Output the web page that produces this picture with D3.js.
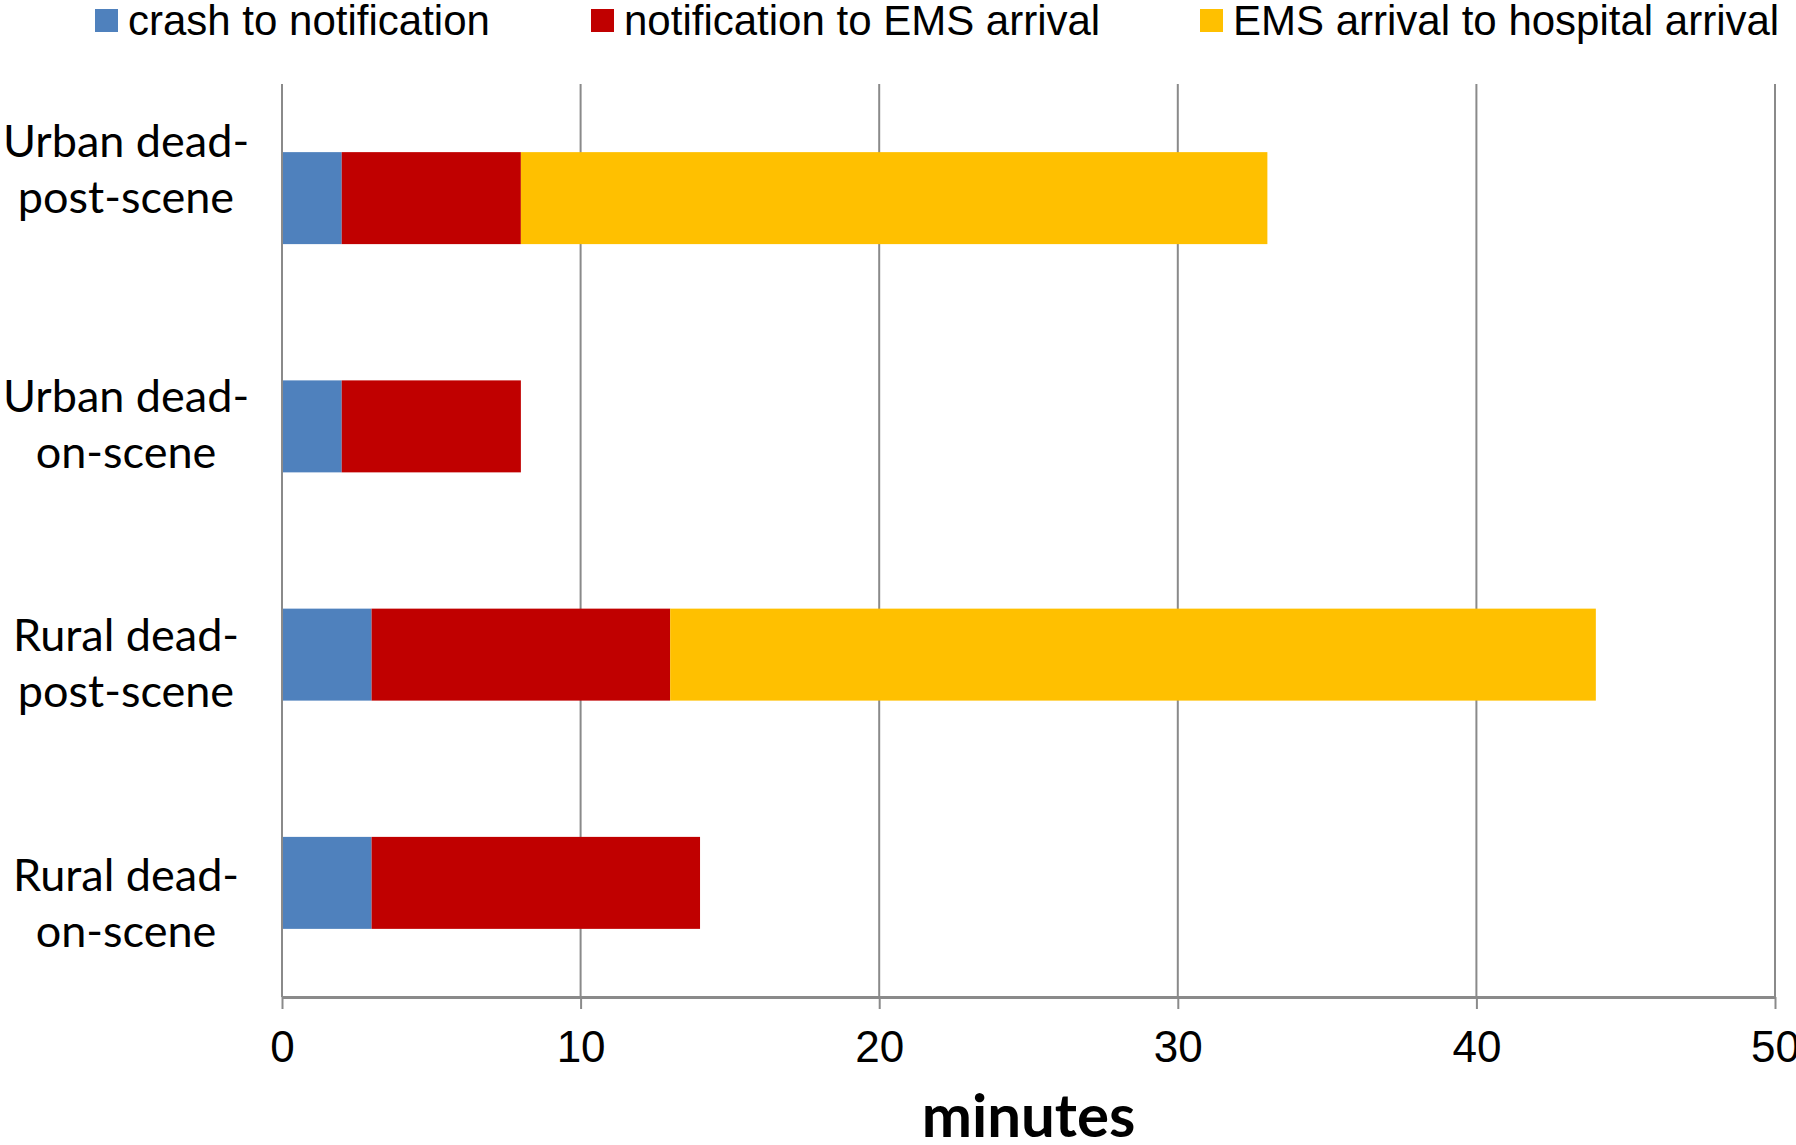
<!DOCTYPE html>
<html>
<head>
<meta charset="utf-8">
<script src="https://cdn.jsdelivr.net/npm/d3@7/dist/d3.min.js"></script>
<style>
  html, body { margin: 0; padding: 0; background: #fff; }
  svg { display: block; }
</style>
</head>
<body>
<svg id="chart" width="1796" height="1145"></svg>
<script>
// Categories, top to bottom
const categories = [
  ["Urban dead-", "post-scene"],
  ["Urban dead-", "on-scene"],
  ["Rural dead-", "post-scene"],
  ["Rural dead-", "on-scene"]
];
const categoryKeys = categories.map(c => c.join(""));

// Stage durations in minutes
const crashToNotification = [2, 2, 3, 3];
const notificationToEMS   = [6, 6, 10, 11];
const emsToHospital       = [25, 0, 31, 0];

const seriesNames = ["crash to notification", "notification to EMS arrival", "EMS arrival to hospital arrival"];
const seriesColors = ["#4F81BD", "#C00000", "#FFC000"];
const xTicks = [0, 10, 20, 30, 40, 50];
const axisTitle = "minutes";

const rows = categoryKeys.map((k, i) => ({
  key: k,
  s0: crashToNotification[i],
  s1: notificationToEMS[i],
  s2: emsToHospital[i]
}));
const stack = d3.stack().keys(["s0", "s1", "s2"])(rows);

const svg = d3.select("#chart");
const plot = { left: 282, right: 1775, top: 84, bottom: 997 };

const x = d3.scaleLinear().domain([0, 50]).range([plot.left, plot.right]);
const y = d3.scaleBand().domain(categoryKeys).range([plot.top, plot.bottom])
  .paddingInner(0.597).paddingOuter(0.2985);

// Vertical gridlines
svg.append("g")
  .selectAll("line")
  .data(xTicks.filter(t => t > 0))
  .join("line")
  .attr("x1", d => x(d)).attr("x2", d => x(d))
  .attr("y1", plot.top).attr("y2", plot.bottom)
  .attr("stroke", "#8a8a8a").attr("stroke-width", 2);

// Stacked bars
svg.append("g")
  .selectAll("g")
  .data(stack)
  .join("g")
  .attr("fill", (d, i) => seriesColors[i])
  .selectAll("rect")
  .data(d => d.filter(p => p[1] > p[0]))
  .join("rect")
  .attr("x", d => x(d[0]))
  .attr("width", d => x(d[1]) - x(d[0]))
  .attr("y", d => y(d.data.key))
  .attr("height", y.bandwidth());

// Left axis line
svg.append("line")
  .attr("x1", x(0)).attr("x2", x(0))
  .attr("y1", plot.top).attr("y2", plot.bottom)
  .attr("stroke", "#8a8a8a").attr("stroke-width", 2);

// Bottom axis
const xAxis = d3.axisBottom(x).tickValues(xTicks).tickSize(12).tickPadding(22).tickSizeOuter(0);
const gx = svg.append("g").attr("transform", `translate(0,${plot.bottom})`).call(xAxis);
gx.select(".domain").attr("stroke", "#8a8a8a").attr("stroke-width", 3);
gx.selectAll(".tick line").attr("stroke", "#8a8a8a").attr("stroke-width", 2);
gx.selectAll(".tick text")
  .attr("fill", "#000")
  .style("font-family", "'Liberation Sans', Arial, sans-serif")
  .style("font-size", "44px");

// Category labels (two lines each); Excel-style uneven vertical placement
const labelShift = [0, 27, 37, 49];
const ylab = svg.append("g");
categories.forEach((lines, i) => {
  const cy = y(categoryKeys[i]) + y.bandwidth() / 2 + labelShift[i];
  const t = ylab.append("text")
    .attr("text-anchor", "middle")
    .attr("x", 126)
    .style("font-family", "Lato, 'Open Sans', sans-serif")
    .style("font-size", "45px")
    .attr("fill", "#000");
  lines.forEach((ln, j) => {
    t.append("tspan").attr("x", 126).attr("y", cy - 41 + j * 56).text(ln);
  });
});

// Axis title
svg.append("text")
  .attr("x", (plot.left + plot.right) / 2)
  .attr("y", 1137)
  .attr("text-anchor", "middle")
  .style("font-family", "Lato, 'Open Sans', sans-serif")
  .style("font-weight", "bold")
  .style("font-size", "60px")
  .attr("fill", "#000")
  .text(axisTitle);

// Legend
const legendX = [95, 591, 1200];
const lg = svg.append("g");
seriesNames.forEach((name, i) => {
  lg.append("rect")
    .attr("x", legendX[i]).attr("y", 9)
    .attr("width", 23).attr("height", 23)
    .attr("fill", seriesColors[i]);
  lg.append("text")
    .attr("x", legendX[i] + 33).attr("y", 35)
    .style("font-family", "'Liberation Sans', Arial, sans-serif")
    .style("font-size", "42px")
    .attr("fill", "#000")
    .text(name);
});
</script>
</body>
</html>
